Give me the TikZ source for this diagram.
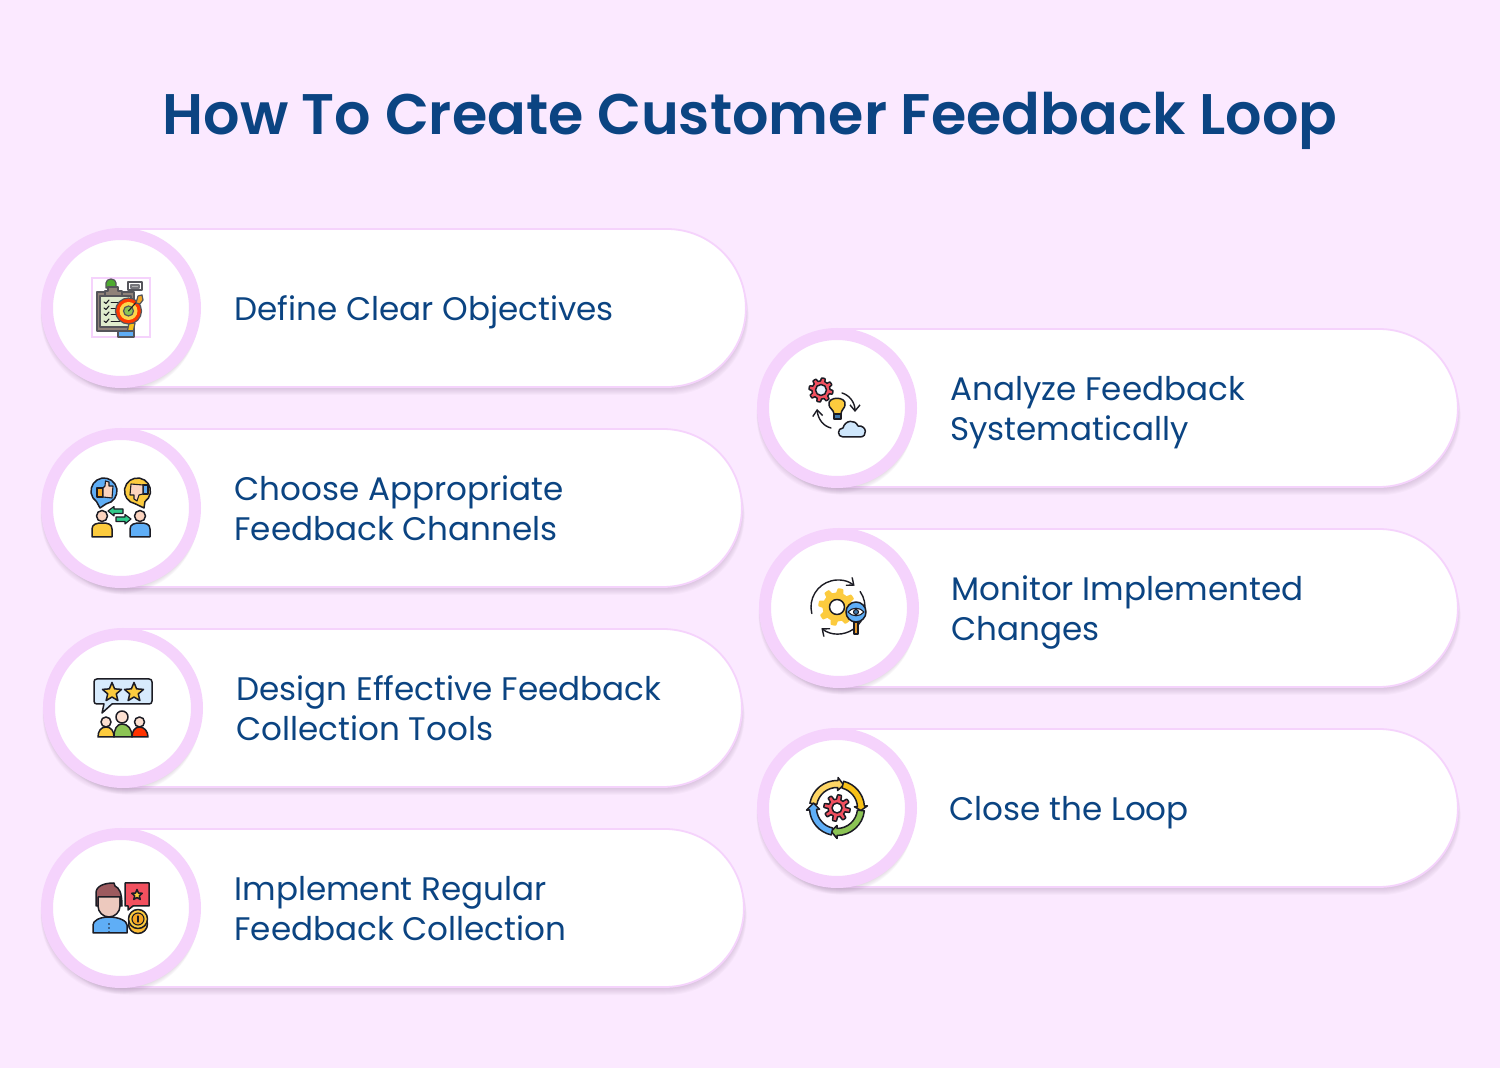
\documentclass[tikz,border=0pt]{standalone}
\usepackage{fontspec}
\setmainfont{Poppins}
\newfontfamily\titlef{Poppins}[UprightFont=* SemiBold]
\usetikzlibrary{calc,arrows.meta}
\definecolor{bgc}{HTML}{FBE9FF}
\definecolor{ringc}{HTML}{F5D3FC}
\definecolor{inkc}{HTML}{0B4482}
\definecolor{shc}{HTML}{8A6A90}
\definecolor{dk}{HTML}{1C1C24}
\definecolor{iyel}{HTML}{FCCB3E}
\definecolor{iblu}{HTML}{5FAEF6}
\definecolor{ired}{HTML}{F2505F}
\definecolor{igrn}{HTML}{8CC455}
\definecolor{iskin}{HTML}{FBD3BE}
\definecolor{iora}{HTML}{F5A623}
\definecolor{ihair}{HTML}{9C5A5E}
\definecolor{iface}{HTML}{EDC9BE}
\definecolor{iboard}{HTML}{8F8279}
\definecolor{ipaper}{HTML}{DFECCD}
\definecolor{iarrow}{HTML}{2FCB8A}
\tikzset{
  pillbox/.style={draw=ringc,line width=0.9pt,fill=white,rounded corners=39.5pt,
    minimum height=79pt,inner sep=0pt,anchor=west},
  ringbox/.style={circle,draw=ringc,line width=6pt,fill=white,minimum size=74pt,inner sep=0pt},
  labelbox/.style={anchor=west,align=left,inner sep=0pt,text=inkc,
    font=\fontsize{16.3}{20}\selectfont},
  ico/.style={draw=dk,line width=0.75pt,line join=round,line cap=round},
  thin ico/.style={draw=dk,line width=0.55pt,line join=round,line cap=round},
  soft ico/.style={draw=dk!75,line width=0.6pt,line join=round,line cap=round},
  turn/.style={draw=dk,line width=0.7pt,line cap=round,-{Straight Barb[length=3pt,width=5pt]}},
}
\newcommand{\ls}[1]{\rule[-1pt]{0pt}{15pt}\smash{#1}}
% #1 name, #2 circle cx, #3 cy, #4 right end, #5 text x, #6 text
\newcommand{\steprow}[6]{%
  \foreach \k in {1,...,8}{
    \fill[shc,opacity=0.04,rounded corners=40pt]
      ({#2-72},{#3-78+\k*0.8}) rectangle ({#4-1+\k*0.45},{#3+78+\k*1.0+1});
  }
  \node[pillbox,minimum width={(#4-1-#2+72)*0.5pt}] (#1p) at ({#2-72},#3) {};
  \foreach \k in {1,...,7}{
    \fill[shc,opacity=0.035] ({#2-\k*0.2},{#3+\k*1.0}) circle[radius=79];
  }
  \node[ringbox] (#1c) at (#2,#3) {};
  \node[labelbox] (#1t) at (#5,#3) {#6};
}
% gear: cx cy R h teeth fill holeR holefill style
\newcommand{\gearicon}[9]{%
  \path[#9,fill=#6] plot[domain=0:360,samples=161,variable=\t]
    ({#1+(#3+#4*max(min(2.5*sin(#5*\t),1),-1))*cos(\t)},{#2+(#3+#4*max(min(2.5*sin(#5*\t),1),-1))*sin(\t)}) -- cycle;
  \draw[ico,fill=#8] (#1,#2) circle[radius=#7];
}
\newcommand{\staricon}[3]{%
  \draw[ico,fill=iyel] plot[samples at={0,36,...,360},variable=\t]
    ({#1+(mod(\t,72)==0 ? #3 : #3*0.45)*sin(\t)},{#2-(mod(\t,72)==0 ? #3 : #3*0.45)*cos(\t)}) -- cycle;
}
\begin{document}
\begin{tikzpicture}[x=0.5pt,y=-0.5pt]
\useasboundingbox (0,0) rectangle (1500,1068);
\fill[bgc] (0,0) rectangle (1500,1068);
\node[anchor=base,inner sep=0pt,text=inkc,font=\titlef\fontsize{28.6}{34}\selectfont] (title) at (750,135) {How To Create Customer Feedback Loop};

\steprow{a}{121}{308}{746}{234}{\ls{Define Clear Objectives}}
\steprow{b}{121}{508}{742}{234}{\ls{Choose Appropriate}\\\ls{Feedback Channels}}
\steprow{c}{123}{708}{742}{236}{\ls{Design Effective Feedback}\\\ls{Collection Tools}}
\steprow{d}{121}{908}{744}{234}{\ls{Implement Regular}\\\ls{Feedback Collection}}
\steprow{e}{837}{408}{1458}{950}{\ls{Analyze Feedback}\\\ls{Systematically}}
\steprow{f}{839}{608}{1458}{951}{\ls{Monitor Implemented}\\\ls{Changes}}
\steprow{g}{837}{808}{1458}{949}{\ls{Close the Loop}}

% --- icon 1: clipboard and target
\draw[ringc,line width=0.75pt] (92,278) rectangle (150,337);
\draw[soft ico,fill=igrn!70!green!80!black] (106,288) -- (106,283) arc[start angle=180,end angle=360,x radius=5,y radius=4] -- (116,288) -- cycle;
\draw[soft ico,fill=white] (128,282) rectangle (142,290);
\draw[thin ico,fill=gray!60,draw=dk!60] (131,285) rectangle (139,288);
\draw[soft ico,fill=iboard] (97,292) rectangle (134,331);
\draw[soft ico,fill=ipaper] (100,296) rectangle (131,327);
\draw[soft ico,fill=iboard] (108,291) -- (108,287) -- (118,287) -- (118,291) -- (122,291) -- (122,296) -- (105,296) -- (105,291) -- cycle;
\foreach \y in {302,308,314,321}{
  \draw[thin ico] (104,\y) -- (106,{\y+1.5}) -- (109,{\y-2});
  \draw[thin ico,line width=0.4pt] (111,\y) -- (120,\y);
}
\draw[soft ico,fill=iora!70!yellow] (129,323) -- (135,323) -- (133,333) -- (127,333) -- cycle;
\draw[soft ico,fill=iblu] (118,331) rectangle (134,337);
\draw[soft ico,fill=red!55!orange] (128.5,311) circle[radius=13];
\draw[thin ico,draw=none,fill=yellow!60!orange!70] (128.5,311) circle[radius=9];
\draw[soft ico,fill=igrn] (128.5,311) circle[radius=5];
\draw[thin ico] (128.5,311) -- (140,298);
\draw[soft ico,fill=iora] (136,303) -- (138,296) -- (142,295) -- (143,300) -- (140,304) -- cycle;

% --- icon 2: thumbs and people
\draw[ico,fill=iblu] (100,508) -- ($(104,491)+(125:13)$) arc[start angle=125,end angle=440,radius=13] -- cycle;
\draw[ico,fill=iyel] (144,508) -- ($(137.5,491)+(100:13)$) arc[start angle=100,end angle=415,radius=13] -- cycle;
\draw[thin ico,fill=iora] (97,488) rectangle (103,497);
\draw[thin ico,fill=iskin] (103,488) -- (105,486) -- (105.5,481) -- (109,482) -- (109,486) -- (113,486) -- (112,498) -- (103,497) -- cycle;
\draw[thin ico,fill=iblu] (143,485) rectangle (148,494);
\draw[thin ico,fill=iskin] (143,485) -- (131,484) -- (130,495) -- (134,495) -- (134,499) -- (137,501) -- (139,495) -- (143,494) -- cycle;
\draw[ico,fill=iskin] (102,516) circle[radius=5.5];
\draw[ico,fill=iyel] (92,537) -- (92,529) .. controls (92,524) and (97,523) .. (102,523) .. controls (108,523) and (112,524) .. (112,529) -- (112,537) -- cycle;
\draw[ico,fill=iskin] (140,516) circle[radius=5.5];
\draw[ico,fill=iblu] (130,537) -- (130,529) .. controls (130,524) and (135,523) .. (140,523) .. controls (146,523) and (150,524) .. (150,529) -- (150,537) -- cycle;
\draw[thin ico,fill=iarrow] (108,511) -- (114,506.5) -- (114,509) -- (123,509) -- (123,513.5) -- (114,513.5) -- (114,516) -- cycle;
\draw[thin ico,fill=iarrow] (131,519) -- (125,514.5) -- (125,517) -- (116,517) -- (116,521.5) -- (125,521.5) -- (125,524) -- cycle;

% --- icon 3: rating bubble
\draw[ico,fill=iblu!25] (97,679) -- (149,679) .. controls (151,679) and (152,680) .. (152,682) -- (152,701) .. controls (152,703) and (151,704) .. (149,704) -- (112,704) -- (102,713) -- (104,704) -- (97,704) .. controls (95,704) and (94,703) .. (94,701) -- (94,682) .. controls (94,680) and (95,679) .. (97,679) -- cycle;
\staricon{112}{692.5}{10}
\staricon{134}{692.5}{10}
\draw[ico,fill=iskin!70] (106,722) circle[radius=5];
\draw[ico,fill=iyel] (98,737) .. controls (98,731) and (101,727) .. (106,727) .. controls (111,727) and (114,731) .. (114,737) -- cycle;
\draw[ico,fill=iskin!70] (139.5,722) circle[radius=5];
\draw[ico,fill=red!60!orange] (132,737) .. controls (132,731) and (135,727) .. (139.5,727) .. controls (144,727) and (148,731) .. (148,737) -- cycle;
\draw[ico,fill=iskin!70] (122,717) circle[radius=6];
\draw[ico,fill=igrn] (114,737) .. controls (114,729) and (117,724) .. (122,724) .. controls (128,724) and (132,729) .. (132,737) -- cycle;

% --- icon 4: man, review, coins
\draw[ico,fill=iblu] (93,933) -- (93,925) .. controls (93,921) and (99,917) .. (109,917) .. controls (119,917) and (127,921) .. (127,925) -- (127,933) -- cycle;
\foreach \y in {924,928,932}{\fill[dk] (109,\y) circle[radius=0.8];}
\draw[ico,fill=iface] (98,896) -- (98,906) .. controls (98,912) and (103,917) .. (109,917) .. controls (115,917) and (120,912) .. (120,906) -- (120,896) -- cycle;
\draw[ico,fill=ihair] (96,906) -- (96,893) .. controls (96,886) and (104,883) .. (114,883) -- (115,886) .. controls (119,888) and (122,892) .. (122,906) -- (120,906) -- (120,897) -- (98,897) -- (98,906) -- cycle;
\draw[ico,fill=ired] (125,883) -- (149,883) -- (149,906) -- (133,906) -- (128,910) -- (128,906) -- (125,906) -- cycle;
\staricon{137}{895}{5.5}
\draw[ico,fill=iyel!80!orange] (138,924) circle[radius=9.5];
\draw[ico,fill=iyel] (138,919) circle[radius=9.5];
\draw[thin ico,fill=iora] (138,919) circle[radius=6];
\draw[thin ico] (138,916) -- (138,922);

% --- icon 5: gear, bulb, cloud
\gearicon{821}{390}{10.5}{1.5}{8}{ired}{5.5}{iblu!15}{ico}
\draw[ico,fill=iyel] (834,414) .. controls (834,410) and (829,408) .. (829,405) .. controls (827,396) and (847,396) .. (845,405) .. controls (845,408) and (841,410) .. (841,414) -- cycle;
\draw[thin ico,fill=iblu!70!black] (834,414) rectangle (841,419);
\draw[ico,fill=iblu!30] (843,437) .. controls (837,437) and (837,428) .. (843,428) .. controls (845,420) and (855,419) .. (858,426) .. controls (867,425) and (868,437) .. (860,437) -- cycle;
\draw[turn] (842,393) .. controls (849,395) and (855,402) .. (855,412);
\draw[turn] (831,428) .. controls (823,426) and (818,419) .. (817,409);

% --- icon 6: gear and magnifier
\draw[turn] ($(838,607)+(166:27)$) arc[start angle=166,end angle=308,radius=27];
\draw[turn] ($(838,607)+(-35:27)$) arc[start angle=-35,end angle=128,radius=27];
\gearicon{837}{607}{16.6}{2.2}{8}{iyel}{7.5}{white}{draw=none}
\draw[ico,fill=iora!70!brown] (854,622) rectangle (858,634);
\draw[ico,fill=iblu] (856,612) circle[radius=10];
\draw[thin ico,fill=white] (848,612) .. controls (852,607) and (860,607) .. (864,612) .. controls (860,617) and (852,617) .. (848,612) -- cycle;
\draw[thin ico,fill=iblu!70!black] (856,612) circle[radius=2.5];

% --- icon 7: loop with gear
\begin{scope}[shift={(837,808)}]
\foreach \a/\h/\b/\c in {190/272/286/iyel!80!white,284/356/6/iora!70!yellow,6/90/104/igrn,102/176/192/iblu}{
  \draw[ico,fill=\c] (\a:27.5) arc[start angle=\a,end angle=\h,radius=27.5]
    -- (\h:30.5) -- (\b:24) -- (\h:17.5) -- (\h:20.5)
    arc[start angle=\h,end angle=\a,radius=20.5] -- cycle;
}
\end{scope}
\gearicon{837}{808}{11}{2.2}{8}{ired}{5}{white}{ico}

\end{tikzpicture}
\end{document}
